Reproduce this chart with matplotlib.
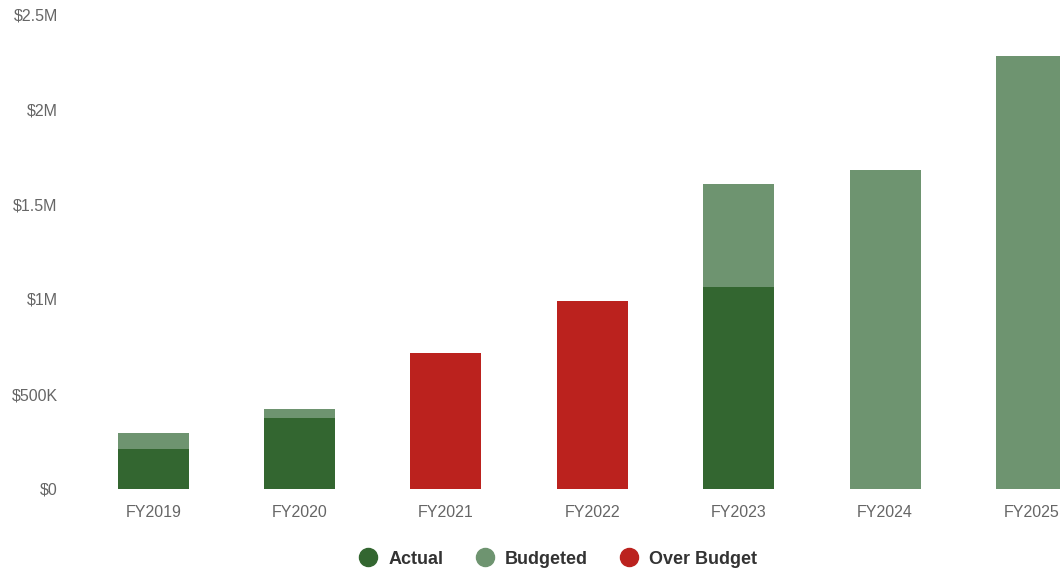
import matplotlib
matplotlib.use("Agg")
import matplotlib.pyplot as plt
from matplotlib.lines import Line2D
from matplotlib.ticker import FuncFormatter
import numpy as np

plt.rcParams['font.family'] = ['Liberation Sans', 'DejaVu Sans']

# spending by fiscal year (dollars)
years = ['FY2019', 'FY2020', 'FY2021', 'FY2022', 'FY2023', 'FY2024', 'FY2025']
budgeted = [295000, 421000, np.nan, np.nan, 1605000, 1679000, 2279000]
actual = [210000, 374000, np.nan, np.nan, 1063000, np.nan, np.nan]
over_budget = [np.nan, np.nan, 716000, 989000, np.nan, np.nan, np.nan]

DARK_GREEN = '#336630'
LIGHT_GREEN = '#6e9470'
RED = '#bb221e'


def money(v, pos):
    if v == 0:
        return '$0'
    if v >= 1e6:
        return '${:g}M'.format(v / 1e6)
    return '${:g}K'.format(v / 1e3)


W, H = 1060, 573
fig = plt.figure(figsize=(W / 100, H / 100), dpi=100)
ax = fig.add_axes([80 / W, (H - 489) / H, (1060 - 80) / W, 475 / H])

x = np.arange(len(years))
bw = 0.485
ax.bar(x, budgeted, width=bw, color=LIGHT_GREEN, zorder=2)
ax.bar(x, actual, width=bw, color=DARK_GREEN, zorder=3)
ax.bar(x, over_budget, width=bw, color=RED, zorder=3)

ax.set_xlim(-0.5, 6.195)
ax.set_ylim(0, 2500000)
ax.set_yticks(np.arange(0, 2500001, 500000))
ax.yaxis.set_major_formatter(FuncFormatter(money))
ax.set_xticks(x)
ax.set_xticklabels(years)

for s in ax.spines.values():
    s.set_visible(False)
ax.tick_params(axis='y', length=0, pad=16, labelsize=11.5, labelcolor='#666666')
ax.tick_params(axis='x', length=0, pad=11.5, labelsize=11.5, labelcolor='#666666')

handles = [
    Line2D([], [], marker='o', linestyle='', markersize=13, color=DARK_GREEN),
    Line2D([], [], marker='o', linestyle='', markersize=13, color=LIGHT_GREEN),
    Line2D([], [], marker='o', linestyle='', markersize=13, color=RED),
]
fig.legend(handles, ['Actual', 'Budgeted', 'Over Budget'], loc='center',
           bbox_to_anchor=(558 / W, 1 - 559 / H), ncol=3, frameon=False,
           handlelength=1.0, handletextpad=0.6, columnspacing=1.8,
           prop={'size': 13, 'weight': 'bold'}, labelcolor='#333333')

fig.savefig('out.png', dpi=100)
